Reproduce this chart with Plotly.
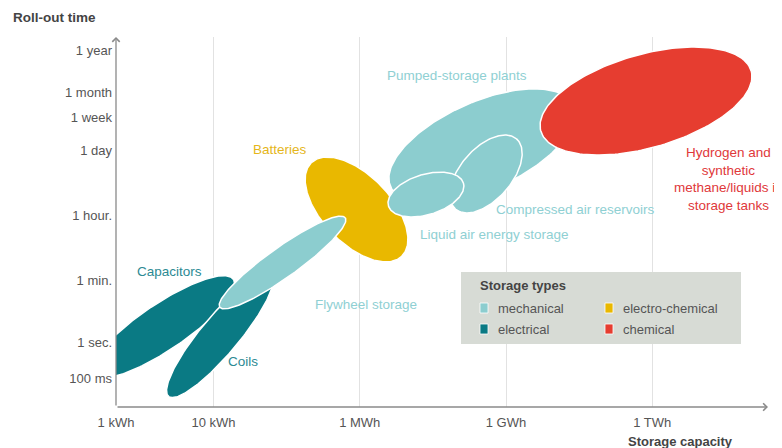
import numpy as np
import plotly.graph_objects as go

# ---- axis ticks (schematic positions) ----
x_tick_labels = ["1 kWh", "10 kWh", "1 MWh", "1 GWh", "1 TWh"]
x_tick_pos = [0.0, 1.0, 2.5, 4.0, 5.5]
y_tick_labels = ["100 ms", "1 sec.", "1 min.", "1 hour.", "1 day", "1 week", "1 month", "1 year"]
y_tick_pos = [0.297, 0.667, 1.303, 1.969, 2.636, 2.974, 3.231, 3.662]

# ---- storage technologies (ellipse centre, semi-axes, tilt in degrees) ----
tech_names = ["Capacitors", "Coils", "Batteries", "Flywheel storage",
              "Pumped-storage plants", "Compressed air reservoirs",
              "Liquid air energy storage", "Hydrogen"]
tech_types = ["electrical", "electrical", "electro-chemical", "mechanical",
              "mechanical", "mechanical", "mechanical", "chemical"]
tech_cx = [0.482, 1.067, 2.467, 1.708, 3.754, 3.795, 3.179, 5.436]
tech_cy = [0.821, 0.738, 2.026, 1.482, 2.677, 2.390, 2.179, 3.138]
tech_a = [0.872, 0.821, 0.667, 0.790, 1.026, 0.477, 0.402, 1.122]
tech_b = [0.236, 0.195, 0.349, 0.154, 0.451, 0.264, 0.207, 0.478]
tech_angle = [34, 50, -46, 35.5, 24, 49, 17, 16]

# ---- text labels for the technologies ----
label_texts = ["Capacitors", "Coils", "Batteries", "Flywheel storage",
               "Pumped-storage plants", "Compressed air reservoirs",
               "Liquid air energy storage",
               "Hydrogen and<br>synthetic<br>methane/liquids in<br>storage tanks"]
label_x = [0.549, 1.303, 1.682, 2.569, 3.497, 4.708, 3.882, 6.287]
label_y = [1.385, 0.462, 2.646, 1.056, 3.405, 2.021, 1.774, 2.338]

type_names = ["mechanical", "electrical", "electro-chemical", "chemical"]
type_colors = {"mechanical": "#8ccdcf", "electrical": "#0a7a84",
               "electro-chemical": "#e9b800", "chemical": "#e63d30"}
text_colors = {"mechanical": "#8fd0d3", "electrical": "#2c8a93",
               "electro-chemical": "#e5b61a", "chemical": "#e0383a"}

# page is rendered with an 8px body margin; compensate in the figure margins
OFF = 8
W, H = 782, 448
ML, MR, MT, MB = 116 - OFF, 14 + OFF, 37 - OFF, 41 + OFF
PW = W - ML - MR
PH = H - MT - MB
PX_PER_UNIT = 97.5
XMAX = PW / PX_PER_UNIT
YMAX = PH / PX_PER_UNIT

FONT = "Liberation Sans, Arial, sans-serif"


def px_x(p):
    """page pixel x -> paper coordinate"""
    return (p - OFF - ML) / PW


def px_y(p):
    """page pixel y -> paper coordinate"""
    return (OFF + MT + PH - p) / PH


fig = go.Figure()

t = np.linspace(0, 2 * np.pi, 200)
for name, typ, cx, cy, a, b, ang in zip(tech_names, tech_types, tech_cx, tech_cy,
                                         tech_a, tech_b, tech_angle):
    th = np.radians(ang)
    xs = cx + a * np.cos(t) * np.cos(th) - b * np.sin(t) * np.sin(th)
    ys = cy + a * np.cos(t) * np.sin(th) + b * np.sin(t) * np.cos(th)
    fig.add_trace(go.Scatter(x=xs, y=ys, mode="lines", fill="toself",
                             fillcolor=type_colors[typ],
                             line=dict(color="white", width=1.5),
                             name=name, showlegend=False, hoverinfo="skip"))

annotations = []
for txt, lx, ly, typ in zip(label_texts, label_x, label_y, tech_types):
    annotations.append(dict(x=lx, y=ly, xref="x", yref="y", text=txt,
                            showarrow=False, align="center",
                            font=dict(family=FONT, size=13.5, color=text_colors[typ])))

# axis arrows
annotations.append(dict(x=XMAX, y=0, ax=0, ay=0, xref="x", yref="y", axref="x", ayref="y",
                        text="", showarrow=True, arrowhead=4, arrowsize=1.1, arrowwidth=1.3,
                        arrowcolor="#8a8a8a", standoff=0, startstandoff=0))
annotations.append(dict(x=0, y=YMAX, ax=0, ay=0, xref="x", yref="y", axref="x", ayref="y",
                        text="", showarrow=True, arrowhead=4, arrowsize=1.1, arrowwidth=1.3,
                        arrowcolor="#8a8a8a", standoff=0, startstandoff=0))

# axis titles
annotations.append(dict(x=px_x(11), y=px_y(17), xref="paper", yref="paper", xanchor="left",
                        yanchor="middle", text="<b>Roll-out time</b>", showarrow=False,
                        font=dict(family=FONT, size=13.5, color="#444444")))
annotations.append(dict(x=px_x(735), y=px_y(441), xref="paper", yref="paper",
                        xanchor="right", yanchor="middle",
                        text="<b>Storage capacity</b>", showarrow=False,
                        font=dict(family=FONT, size=13, color="#444444")))

# legend box (drawn manually to get the 2x2 layout)
shapes = [dict(type="rect", xref="paper", yref="paper", x0=px_x(461), x1=px_x(741),
               y0=px_y(344), y1=px_y(272), fillcolor="#d7dbd5", line=dict(width=0), layer="above")]
annotations.append(dict(x=px_x(478), y=px_y(285), xref="paper", yref="paper", xanchor="left",
                        yanchor="middle", text="<b>Storage types</b>", showarrow=False,
                        font=dict(family=FONT, size=13, color="#444444")))
legend_slots = [(480, 308), (480, 329), (605, 308), (605, 329)]
for tn, (sx, sy) in zip(type_names, legend_slots):
    shapes.append(dict(type="rect", xref="paper", yref="paper", x0=px_x(sx), x1=px_x(sx + 8),
                       y0=px_y(sy + 5), y1=px_y(sy - 5), fillcolor=type_colors[tn],
                       line=dict(color="white", width=0.8), layer="above"))
    annotations.append(dict(x=px_x(sx + 16), y=px_y(sy), xref="paper", yref="paper",
                            xanchor="left", yanchor="middle", text=tn, showarrow=False,
                            font=dict(family=FONT, size=13, color="#555555")))

fig.update_layout(
    width=W, height=H,
    margin=dict(l=ML, r=MR, t=MT, b=MB),
    paper_bgcolor="white", plot_bgcolor="white",
    showlegend=False,
    annotations=annotations, shapes=shapes,
    xaxis=dict(range=[0, XMAX], tickvals=x_tick_pos, ticktext=x_tick_labels,
               showgrid=True, gridcolor="#e2e2e2", gridwidth=1, zeroline=False,
               showline=False, ticks="", ticklabelstandoff=6,
               tickfont=dict(family=FONT, size=13, color="#555555"), fixedrange=True),
    yaxis=dict(range=[0, YMAX], tickvals=y_tick_pos, ticktext=y_tick_labels,
               showgrid=False, zeroline=False, showline=False, ticks="",
               ticklabelstandoff=3,
               tickfont=dict(family=FONT, size=13, color="#555555"), fixedrange=True),
)

fig.write_html("out.html")
